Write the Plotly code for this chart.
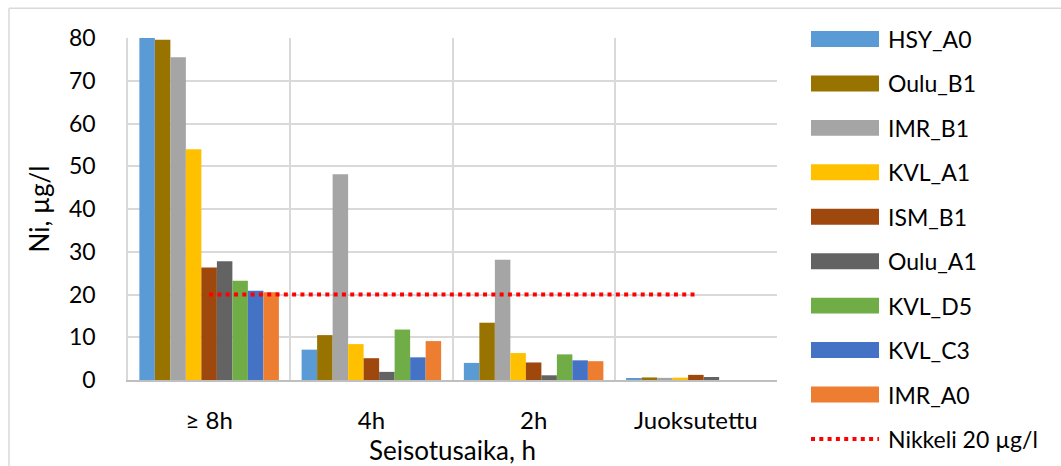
import plotly.graph_objects as go

# Standing time categories
categories = ["≥ 8h", "4h", "2h", "Juoksutettu"]

# Ni concentrations (µg/l) per sample site
HSY_A0 = [80.0, 7.1, 4.0, 0.3]
Oulu_B1 = [79.6, 10.5, 13.4, 0.6]
IMR_B1 = [75.5, 48.1, 28.1, 0.5]
KVL_A1 = [54.0, 8.4, 6.3, 0.55]
ISM_B1 = [26.3, 5.1, 4.1, 1.2]
Oulu_A1 = [27.8, 1.9, 1.1, 0.7]
KVL_D5 = [23.2, 11.8, 6.0, 0.0]
KVL_C3 = [20.9, 5.3, 4.6, 0.0]
IMR_A0 = [20.5, 9.1, 4.4, 0.0]

# Limit value
limit_name = "Nikkeli 20 µg/l"
limit_value = [20, 20, 20, 20]

series_names = ["HSY_A0", "Oulu_B1", "IMR_B1", "KVL_A1", "ISM_B1",
                "Oulu_A1", "KVL_D5", "KVL_C3", "IMR_A0"]
series_values = [HSY_A0, Oulu_B1, IMR_B1, KVL_A1, ISM_B1,
                 Oulu_A1, KVL_D5, KVL_C3, IMR_A0]
series_colors = ["#5B9BD5", "#997300", "#A5A5A5", "#FFC000", "#9E480E",
                 "#636363", "#70AD47", "#4472C4", "#ED7D31"]

W, H = 1061, 466
L, R, T, B = 128, 284, 38, 84
PW, PH = W - L - R, H - T - B


def px(x):
    return (x - L) / PW


def py(y):
    return (H - B - y) / PH


fig = go.Figure()
for name, vals, col in zip(series_names, series_values, series_colors):
    fig.add_trace(go.Bar(x=categories, y=vals, name=name,
                         marker=dict(color=col, line=dict(width=0))))

fig.add_trace(go.Scatter(x=categories, y=limit_value, name=limit_name,
                         mode="lines",
                         line=dict(color="#FF0000", width=4, dash="4px,4.3px")))

grid = "#D9D9D9"
fig.update_layout(
    width=W, height=H,
    margin=dict(l=L, r=R, t=T, b=B),
    paper_bgcolor="white", plot_bgcolor="white",
    font=dict(family="Lato", size=22, color="#000000"),
    barmode="group", bargap=0.14, bargroupgap=0,
    showlegend=False,
    xaxis=dict(
        type="category", tickson="boundaries", showgrid=True,
        gridcolor=grid, gridwidth=1.5,
        showline=True, linecolor="#BFBFBF", linewidth=2,
        ticks="", ticklabelstandoff=18,
        tickfont=dict(size=24),
        title=dict(text="Seisotusaika, h", font=dict(size=26), standoff=2),
        range=[-0.5, 3.5],
    ),
    yaxis=dict(
        range=[0, 80], dtick=10, showgrid=True,
        gridcolor=grid, gridwidth=1.5,
        showline=True, linecolor=grid, linewidth=1.5,
        zeroline=False, ticks="", ticklabelstandoff=26,
        tickfont=dict(size=23),
        title=dict(text="Ni, µg/l", font=dict(size=26), standoff=12),
    ),
)

shapes = []
annotations = []
# Chart outer frame (left and top edges)
shapes.append(dict(type="line", xref="paper", yref="paper",
                   x0=px(9), x1=px(W + 5), y0=py(8), y1=py(8),
                   line=dict(color=grid, width=1.5)))
shapes.append(dict(type="line", xref="paper", yref="paper",
                   x0=px(9), x1=px(9), y0=py(8), y1=py(H + 5),
                   line=dict(color=grid, width=1.5)))

# Legend on the right
sw_x0, sw_x1, txt_x = 811, 879, 886
row0, row_step = 39, 44.7
for i, (name, col) in enumerate(zip(series_names, series_colors)):
    yc = row0 + i * row_step
    shapes.append(dict(type="rect", xref="paper", yref="paper",
                       x0=px(sw_x0), x1=px(sw_x1), y0=py(yc - 8), y1=py(yc + 8),
                       fillcolor=col, line=dict(width=0)))
    annotations.append(dict(xref="paper", yref="paper", x=px(txt_x), y=py(yc),
                            text=name, showarrow=False, xanchor="left",
                            yanchor="middle", font=dict(size=23)))
yc = row0 + len(series_names) * row_step
shapes.append(dict(type="line", xref="paper", yref="paper",
                   x0=px(sw_x0), x1=px(sw_x1), y0=py(yc), y1=py(yc),
                   line=dict(color="#FF0000", width=4, dash="4px,4.3px")))
annotations.append(dict(xref="paper", yref="paper", x=px(txt_x), y=py(yc),
                        text=limit_name, showarrow=False, xanchor="left",
                        yanchor="middle", font=dict(size=23)))

fig.update_layout(shapes=shapes, annotations=annotations)
fig.write_html("out.html")
